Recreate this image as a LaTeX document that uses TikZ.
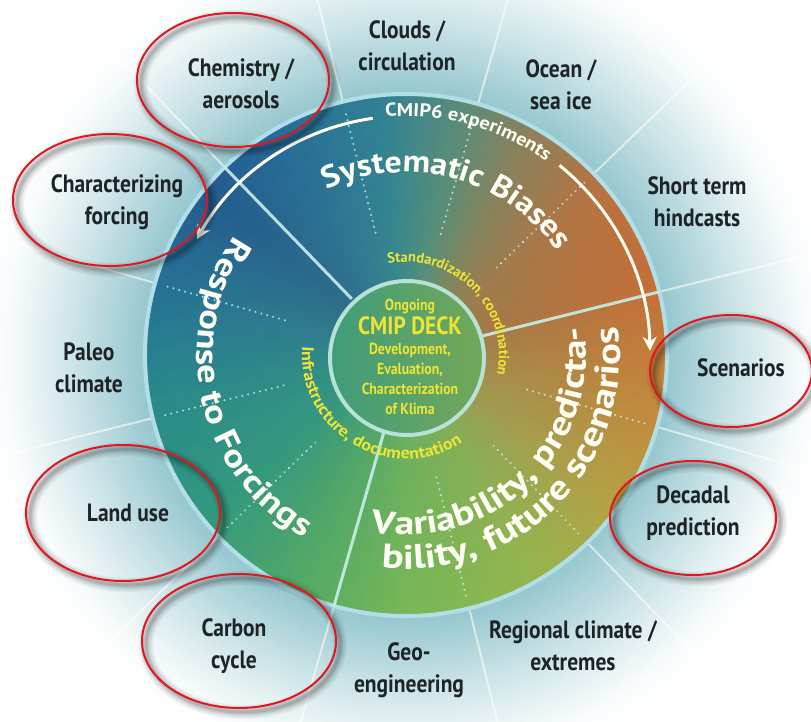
\documentclass[tikz,border=0pt]{standalone}
\usepackage{fontspec}
\newfontfamily\labfont[FakeStretch=0.86]{PT Sans}
\newfontfamily\arcfont[FakeStretch=1.1]{PT Sans}
\newfontfamily\arcfontwide[FakeStretch=1.2]{PT Sans}
\newfontfamily\plainfont{PT Sans}
\usetikzlibrary{decorations.text,arrows.meta,fadings}

% palette
\definecolor{labtext}{HTML}{1E2327}
\definecolor{deckyellow}{HTML}{EDE436}
\definecolor{rimC}{HTML}{B2DEE8}
\definecolor{haloC}{HTML}{AAD3E3}
\definecolor{sepline}{HTML}{C8EEE8}
\definecolor{ringred}{HTML}{E3161D}
\definecolor{deckL}{HTML}{3E9C7C}
\definecolor{deckR}{HTML}{74A858}
\definecolor{deckrim}{HTML}{B9E2D6}
\definecolor{coreteal}{HTML}{4A9A78}
% colour stops of the disc, going round counter-clockwise
\definecolor{k0}{HTML}{E0652A}
\definecolor{k1}{HTML}{D26A34}
\definecolor{k2}{HTML}{A07A52}
\definecolor{k3}{HTML}{5C8A7C}
\definecolor{k4}{HTML}{2B7C9C}
\definecolor{k5}{HTML}{1F64A0}
\definecolor{k6}{HTML}{1B4E96}
\definecolor{k7}{HTML}{1E6A9C}
\definecolor{k8}{HTML}{23878E}
\definecolor{k9}{HTML}{2F9A80}
\definecolor{k10}{HTML}{55AD62}
\definecolor{k11}{HTML}{82BF4F}
\definecolor{k12}{HTML}{A7BC45}
\definecolor{k13}{HTML}{D0A23A}
\definecolor{k14}{HTML}{E0832E}

\tikzfading[name=centerfade, inner color=transparent!50, outer color=transparent!100]

\begin{document}
\begin{tikzpicture}[x=1pt,y=1pt,
  lab/.style={font=\labfont\bfseries\fontsize{25}{32}\selectfont, text=labtext, align=center, inner sep=0pt},
  spoke/.style={white, line width=2, opacity=0.85},
  dotline/.style={white!80!cyan, line width=2.2, line cap=round, dash pattern=on 0.1pt off 6pt, opacity=0.8},
  sep/.style={sepline, line width=3, opacity=0.9},
  flowarrow/.style={white!94!yellow, line width=3, -{Stealth[length=14pt,width=14pt]}},
  arcwhite/.style={decorate, decoration={text along path, text align=center, text color=white!96!yellow, text={#1}}},
  arcyellow/.style={decorate, decoration={text along path, text align=center, text color=deckyellow, text={#1}}},
  ringmark/.style={ringred, line width=2}
]
\useasboundingbox (-406,-366) rectangle (405,355);
\clip (-406,-366) rectangle (405,355);
\fill[white] (-406,-366) rectangle (405,355);

% pale blue glow around the disc, from the rim outwards to white
\foreach \i in {0,...,34} {
  \pgfmathsetmacro\rr{440-5*\i}
  \pgfmathtruncatemacro\q{100*(\i/34)^1.6}
  \fill[haloC!\q!white] (0,0) circle (\rr);
}

% spokes between the outer topics
\foreach \t in {14,44,...,344} \draw[spoke] (\t:262) -- (\t:480);

% disc with an angular colour sweep
\foreach \a/\b/\ca/\cb in {15/40/k0/k1, 40/60/k1/k2, 60/78/k2/k3, 78/96/k3/k4, 96/118/k4/k5,
    118/140/k5/k6, 140/165/k6/k7, 165/192/k7/k8, 192/220/k8/k9, 220/245/k9/k10,
    245/270/k10/k11, 270/300/k11/k12, 300/325/k12/k13, 325/350/k13/k14, 350/375/k14/k0} {
  \foreach \k in {0,...,9} {
    \pgfmathsetmacro\wa{\a+(\b-\a)*\k/10}
    \pgfmathsetmacro\wb{\a+(\b-\a)*(\k+1)/10+0.5}
    \pgfmathtruncatemacro\p{95-10*\k}
    \fill[\ca!\p!\cb] (0,0) -- (\wa:262) arc[start angle=\wa, end angle=\wb, radius=262] -- cycle;
  }
}
% softer teal towards the middle
\fill[coreteal, path fading=centerfade] (0,0) circle (400);
\draw[rimC, line width=4] (0,0) circle (261);

% dotted sub-divisions
\foreach \t in {44,74,104,164,194,224,284,314,344} \draw[dotline] (\t:126) -- (\t:252);
% the three main sectors
\foreach \t in {14,134,254} \draw[sep] (\t:78) -- (\t:262);

% core: CMIP DECK
\shade[left color=deckL, right color=deckR] (1,-3) circle (77);
\draw[deckrim, line width=4] (1,-3) circle (77);
\node[font=\labfont\bfseries\fontsize{16}{20}\selectfont, text=deckyellow, align=center] (deck) at (4,-2)
  {Ongoing\\[1pt]{\fontsize{25}{22}\selectfont CMIP DECK}\\Development,\\Evaluation,\\Characterization\\of Klima};

% ring texts around the core
\path[arcyellow={|\plainfont\bfseries\fontsize{14.5}{14}\selectfont|Standardization, coordination}]
  (110:93) arc[start angle=110, end angle=-21, radius=93];
\path[arcyellow={|\arcfont\bfseries\fontsize{16.5}{16}\selectfont|Infrastructure, documentation}]
  (164:104) arc[start angle=164, end angle=314, radius=104];

% sector titles
\path[arcwhite={|\arcfont\bfseries\fontsize{31}{31}\selectfont|Systematic Biases}]
  (130:183) arc[start angle=130, end angle=20, radius=183];
\path[arcwhite={|\arcfontwide\bfseries\fontsize{32}{32}\selectfont|Response to Forcings}]
  (125:209) arc[start angle=125, end angle=261, radius=209];
\path[arcwhite={|\arcfontwide\bfseries\fontsize{33}{33}\selectfont|Variability, predicta-}]
  (242:180) arc[start angle=242, end angle=386, radius=180];
\path[arcwhite={|\arcfontwide\bfseries\fontsize{34}{34}\selectfont|bility, future scenarios}]
  (243:214) arc[start angle=243, end angle=388, radius=214];

% CMIP6 experiments with its two arrows
\path[arcwhite={|\arcfont\bfseries\fontsize{18.5}{18}\selectfont|CMIP6 experiments}]
  (100:239) arc[start angle=100, end angle=49, radius=239];
\draw[flowarrow] (98:239) arc[start angle=98, end angle=151, radius=239];
\draw[flowarrow] (51:244) arc[start angle=51, end angle=1, radius=244];

% outer topics
\node[lab] (clouds)   at (1,309)     {Clouds /\\circulation};
\node[lab] (ocean)    at (155,270)   {Ocean /\\sea ice};
\node[lab] (hindcast) at (291,153)   {Short term\\hindcasts};
\node[lab] (scen)     at (335,-13)   {Scenarios};
\node[lab] (decadal)  at (287,-158)  {Decadal\\prediction};
\node[lab] (regional) at (167,-291)  {Regional climate /\\extremes};
\node[lab] (geo)      at (3,-315)    {Geo-\\engineering};
\node[lab] (carbon)   at (-172,-291) {Carbon\\cycle};
\node[lab] (landuse)  at (-278,-158) {Land use};
\node[lab] (paleo)    at (-317,-13)  {Paleo\\climate};
\node[lab] (forcing)  at (-289,153)  {Characterizing\\forcing};
\node[lab] (chem)     at (-165,271)  {Chemistry /\\aerosols};

% red rings with a soft shadow
\foreach \cx/\cy/\rx/\ry in {-173/275/96/67, -296/155/97/66, 325/-16/81/56,
    -283/-158/97/68, 287/-163/83/57, -167/-286/97/67} {
  \foreach \w/\o in {14/0.05, 10/0.07, 6/0.09, 3/0.1}
    \draw[black, opacity=\o, line width=\w] (\cx+4,\cy-4) ellipse[x radius=\rx, y radius=\ry];
  \draw[ringmark] (\cx,\cy) ellipse[x radius=\rx, y radius=\ry];
}
\end{tikzpicture}
\end{document}
